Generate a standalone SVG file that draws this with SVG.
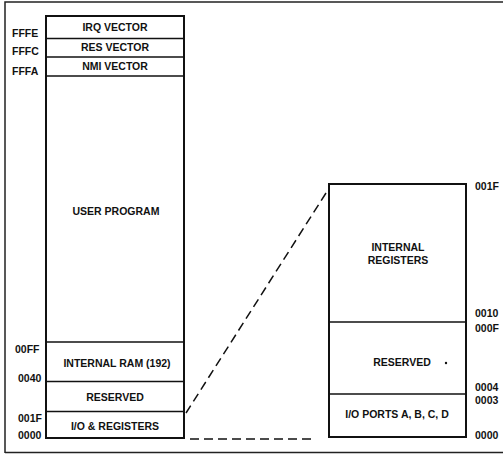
<svg xmlns="http://www.w3.org/2000/svg" width="503" height="455" viewBox="0 0 503 455">
<style>
.box{fill:#fff;stroke:#111;stroke-width:2}
.div{stroke:#111;stroke-width:1.5}
.t{font-family:"Liberation Sans",Arial,sans-serif;font-weight:bold;font-size:10.5px;fill:#111}
.c{text-anchor:middle}
.dash{stroke:#111;stroke-width:1.5;stroke-dasharray:9,5;fill:none}
.frame{stroke:#222;stroke-width:1.5;fill:none}
</style>
<rect width="503" height="455" fill="#fff"/>
<path class="frame" d="M5,453 V2 H503 M5,452.5 H503"/>
<g id="left-map">
<rect class="box" x="46" y="16" width="138" height="422"/>
<line class="div" x1="46" y1="38.5" x2="184" y2="38.5"/>
<line class="div" x1="46" y1="57" x2="184" y2="57"/>
<line class="div" x1="46" y1="76" x2="184" y2="76"/>
<line class="div" x1="46" y1="342" x2="184" y2="342"/>
<line class="div" x1="46" y1="381.5" x2="184" y2="381.5"/>
<line class="div" x1="46" y1="411.5" x2="184" y2="411.5"/>
</g>
<g id="irq"><text class="t c" x="115" y="31">IRQ VECTOR</text></g>
<g id="res"><text class="t c" x="115" y="51">RES VECTOR</text></g>
<g id="nmi"><text class="t c" x="115" y="70">NMI VECTOR</text></g>
<g id="user"><text class="t c" x="116" y="215">USER PROGRAM</text></g>
<g id="ram"><text class="t c" x="117" y="367">INTERNAL RAM (192)</text></g>
<g id="reserved-left"><text class="t c" x="115" y="401">RESERVED</text></g>
<g id="io"><text class="t c" x="115" y="430">I/O &amp; REGISTERS</text></g>
<g id="left-labels">
<text class="t" x="12" y="37">FFFE</text>
<text class="t" x="12" y="55">FFFC</text>
<text class="t" x="12" y="75">FFFA</text>
<text class="t" x="15" y="353">00FF</text>
<text class="t" x="18" y="382">0040</text>
<text class="t" x="18" y="422">001F</text>
<text class="t" x="18" y="439">0000</text>
</g>
<g id="right-map">
<rect class="box" x="329" y="184" width="137" height="253"/>
<line class="div" x1="329" y1="322" x2="466" y2="322"/>
<line class="div" x1="329" y1="394" x2="466" y2="394"/>
</g>
<g id="int-regs"><text class="t c" x="398" y="251">INTERNAL</text><text class="t c" x="398" y="264">REGISTERS</text></g>
<g id="reserved-right"><text class="t c" x="402" y="366">RESERVED</text><circle cx="446" cy="363" r="1.2" fill="#111"/></g>
<g id="ports"><text class="t c" x="397" y="418">I/O PORTS A, B, C, D</text></g>
<g id="right-labels">
<text class="t" x="475" y="190">001F</text>
<text class="t" x="475" y="317">0010</text>
<text class="t" x="475" y="332">000F</text>
<text class="t" x="475" y="391">0004</text>
<text class="t" x="475" y="404">0003</text>
<text class="t" x="475" y="439">0000</text>
</g>
<g id="connectors">
<line class="dash" x1="326" y1="193" x2="186" y2="413"/>
<line class="dash" x1="190" y1="439" x2="314" y2="439"/>
</g>
</svg>
